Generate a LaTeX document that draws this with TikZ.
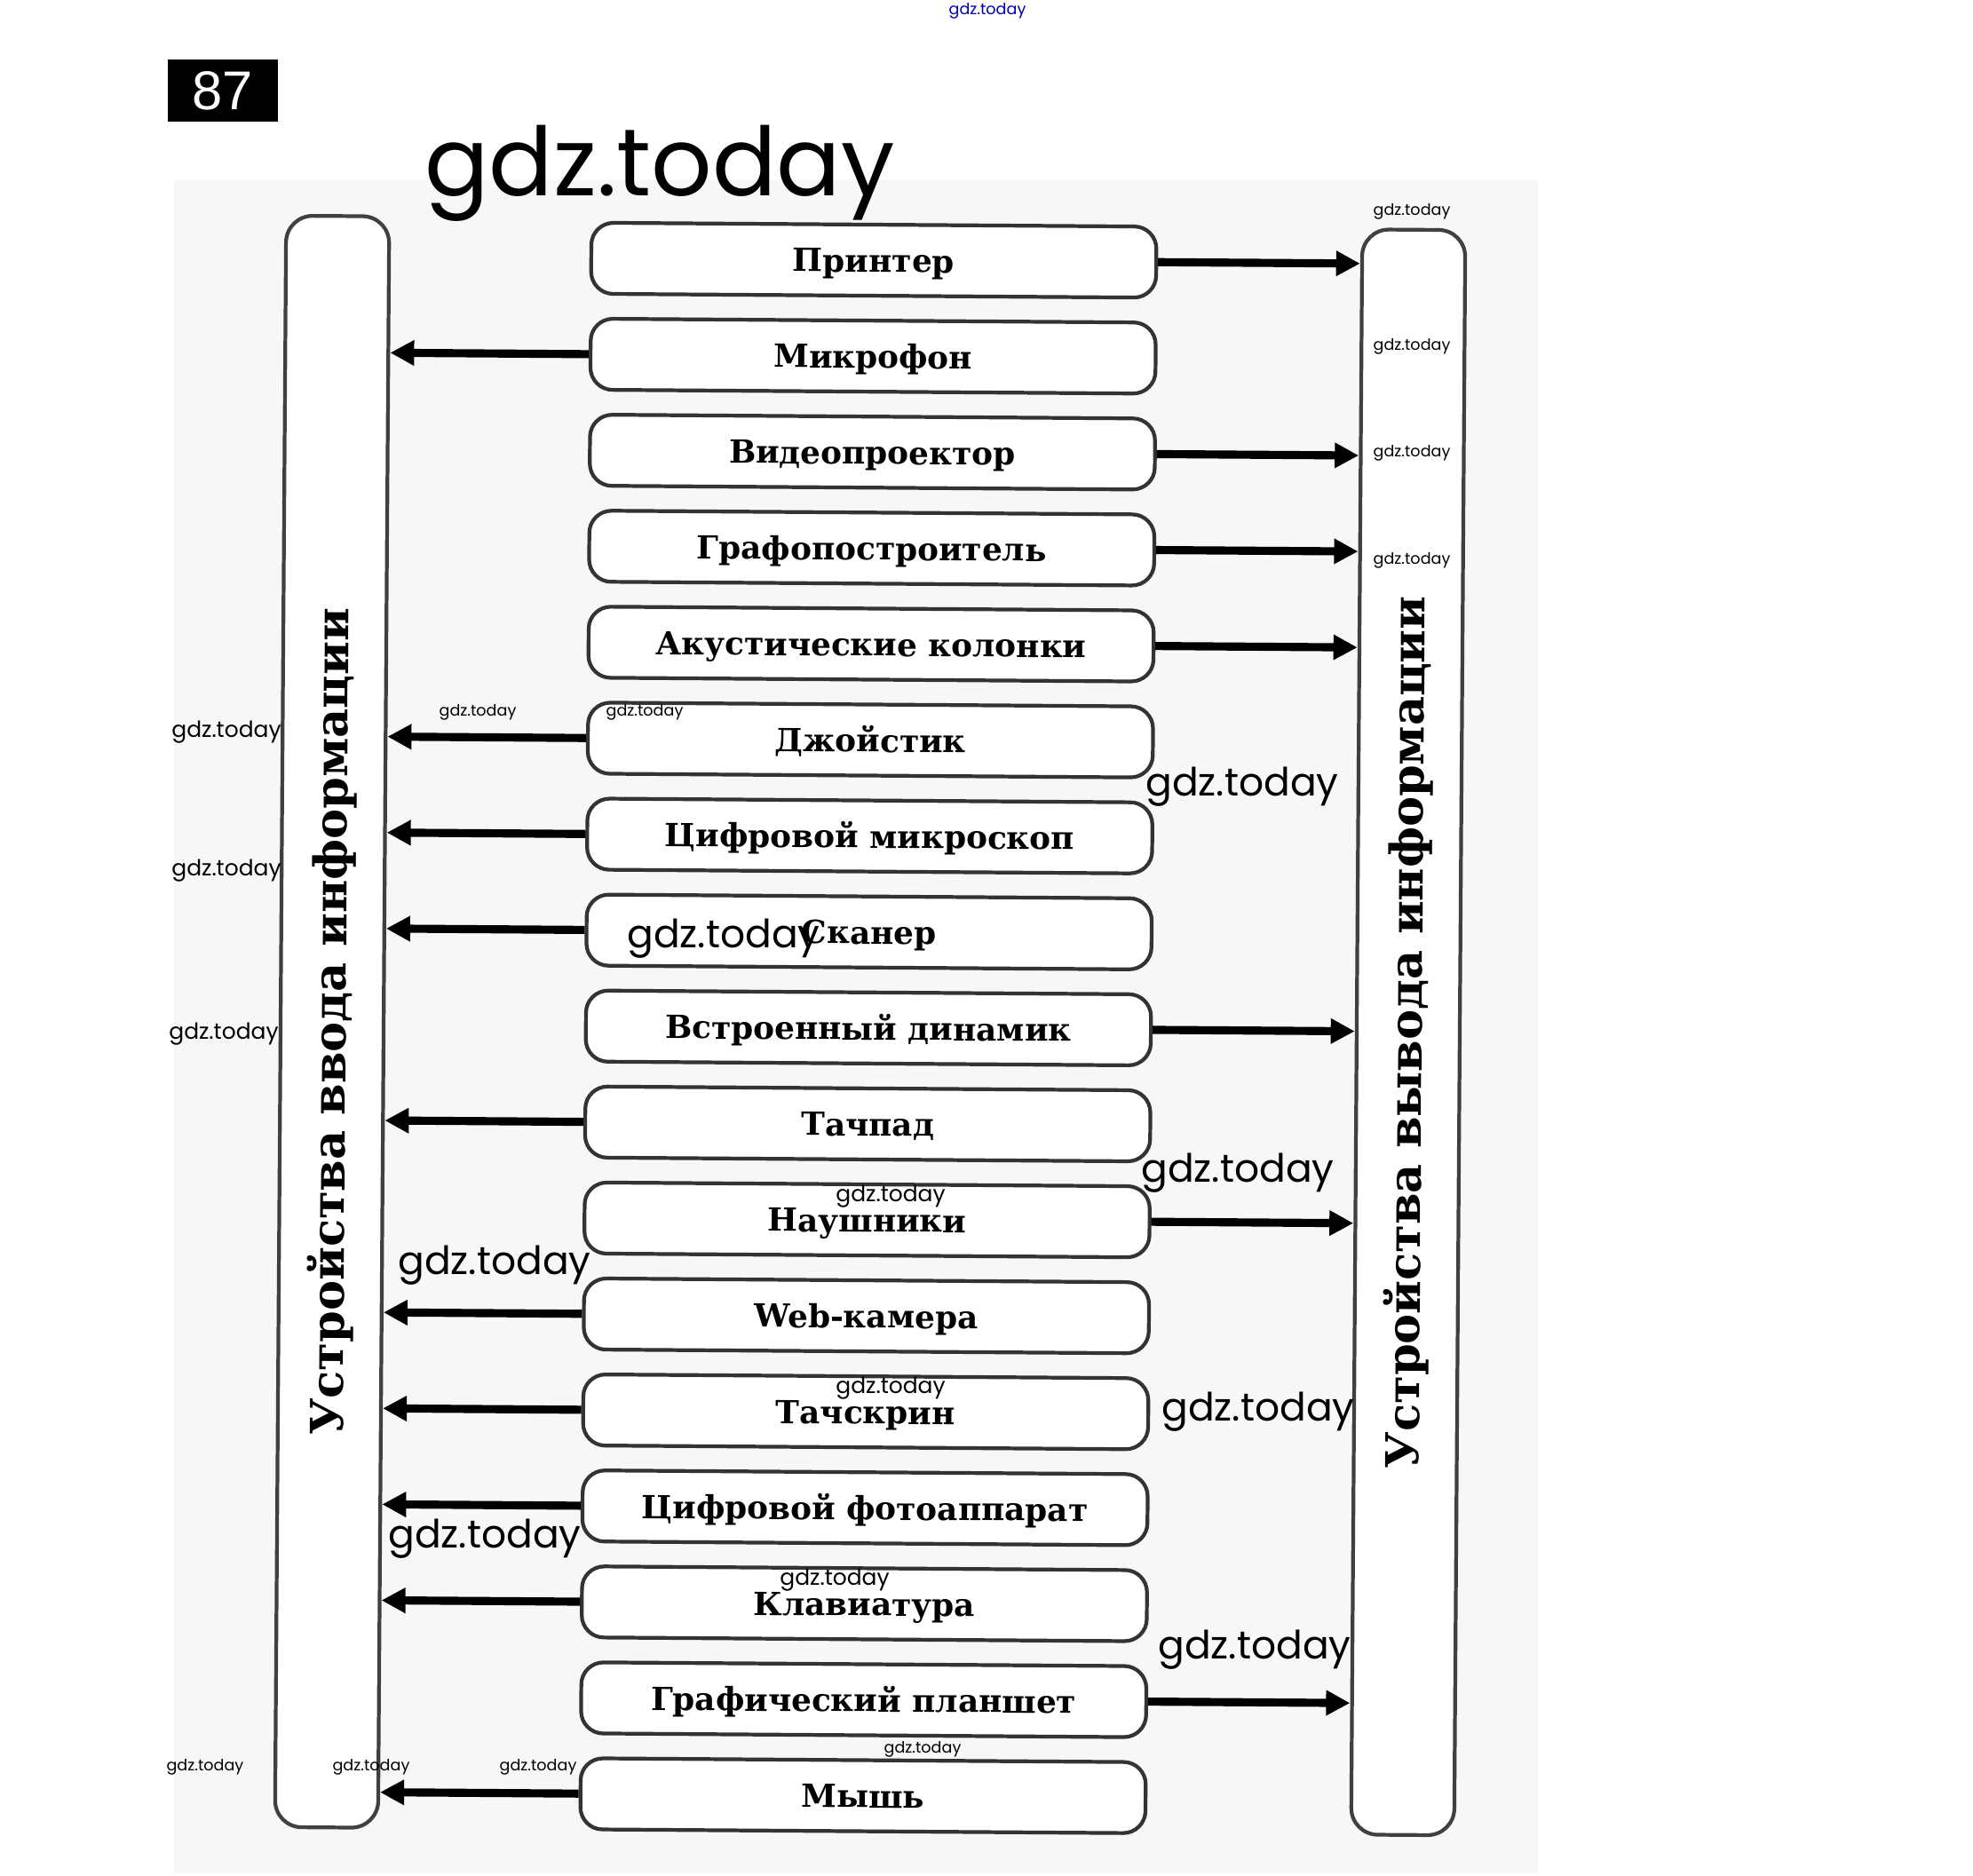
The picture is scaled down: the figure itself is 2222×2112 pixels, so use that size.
\documentclass[tikz,border=0pt]{standalone}
\usepackage{fontspec}
\setmainfont{DejaVu Serif}
\newfontfamily\wmfont{Poppins}
\newfontfamily\numfont{Liberation Sans}
\usetikzlibrary{arrows.meta}

\tikzset{
  devbox/.style={draw=black!80, line width=1.2pt, fill=white, rounded corners=0.25cm,
    minimum width=6.36cm, minimum height=0.8cm, inner sep=0pt,
    text height=8pt, text depth=0.3pt,
    font=\bfseries\fontsize{10.2}{12}\selectfont},
  tallbox/.style={draw=black!75, line width=1.2pt, fill=white, rounded corners=0.3cm,
    minimum width=1.16cm, inner sep=0pt},
  sidelabel/.style={rotate=90, font=\bfseries\fontsize{14.5}{16}\selectfont},
  link/.style={line width=2.6pt, -{Triangle[length=0.27cm,width=0.27cm]}},
  wmbig/.style={font=\wmfont\fontsize{30.5}{33}\selectfont, inner sep=0pt},
  wmlarge/.style={font=\wmfont\fontsize{12.5}{14}\selectfont, inner sep=0pt},
  wmsmall/.style={font=\wmfont\fontsize{7.1}{8}\selectfont, inner sep=0pt},
  wmtiny/.style={font=\wmfont\fontsize{5}{6}\selectfont, inner sep=0pt}
}

\begin{document}
\begin{tikzpicture}[x=0.01cm, y=-0.01cm]
  \useasboundingbox (0,0) rectangle (2222,2112);
  % page of the book
  \fill[black!3] (196,203) rectangle (1732,2110);
  \node[fill=black, text=white, minimum width=1.24cm, minimum height=0.7cm,
    font=\numfont\fontsize{17.5}{19}\selectfont] (num) at (251,102) {87};

  % the scan is turned a little
  \begin{scope}[rotate around={-0.4:(978,1155)}, transform shape]
    \node[tallbox, minimum height=18.14cm] (inbox) at (374,1155) {};
    \node[sidelabel] (inlabel) at (inbox.center) {Устройства ввода информации};
    \node[tallbox, minimum height=18.07cm] (outbox) at (1586,1158.5) {};
    \node[sidelabel] (outlabel) at (outbox.center) {Устройства вывода информации};

    \foreach \lbl [count=\i] in {Принтер, Микрофон, Видеопроектор, Графопостроитель,
        Акустические колонки, Джойстик, Цифровой микроскоп, Сканер,
        Встроенный динамик, Тачпад, Наушники, Web-камера, Тачскрин,
        Цифровой фотоаппарат, Клавиатура, Графический планшет, Мышь}
      \node[devbox] (d\i) at (978,{293+108.1*(\i-1)}) {\lbl};

    % output devices
    \foreach \i in {1,3,4,5,9,11,16}
      \draw[link] (d\i.east) -- (d\i.east -| outbox.west);
    % input devices
    \foreach \i in {2,6,7,8,10,12,13,14,15,17}
      \draw[link] (d\i.west) -- (d\i.west -| inbox.east);
  \end{scope}

  % watermarks
  \node[wmbig] (wm0) at (743,195) {gdz.today};
  \node[wmtiny, text=blue!70!black] (wmtop) at (1112,12) {gdz.today};
  \foreach \x/\y [count=\k] in {1590/238, 1590/390, 1590/510, 1590/631, 538/802,
      726/802, 1039/1970, 231/1990, 418/1990, 606/1990}
    \node[wmtiny] (wt\k) at (\x,\y) {gdz.today};
  \foreach \x/\y [count=\k] in {255/825, 255/981, 252/1165, 1003/1348, 1003/1564, 940/1780}
    \node[wmsmall] (ws\k) at (\x,\y) {gdz.today};
  \foreach \x/\y [count=\k] in {1399/886, 815/1057, 1394/1321, 557/1425, 1417/1590,
      546/1733, 1413/1858}
    \node[wmlarge] (wl\k) at (\x,\y) {gdz.today};
\end{tikzpicture}
\end{document}
